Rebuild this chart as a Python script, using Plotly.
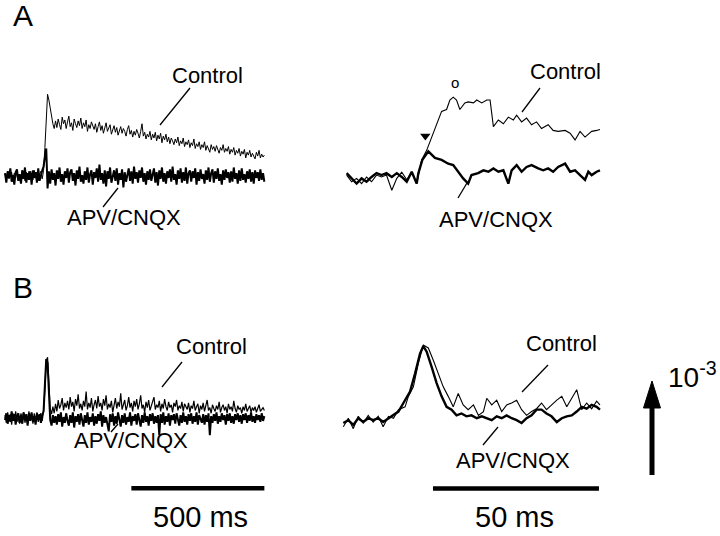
import plotly.graph_objects as go

# ---------------- DATA ----------------
# Panel A, left (slow sweep): sample interval 5 ms, values in units of 10^-3
A_left_dt = 5
A_left_control = [
    0.02, -0.04, 0.05, -0.03, 0.01, 0.04, -0.05, 0.03, -0.02, 0.05,
    -0.04, 0.02, -0.03, 0.06, 0.03, -0.05, 0.04, -0.02, 0.05, -0.03,
    0.03, -0.04, 0.06, -0.02, 0.04, -0.05, 0.02, 0.05, -0.03, 0.06,
    0.30, 0.65, 0.86, 0.80, 0.70, 0.62, 0.55, 0.50,
    0.58, 0.51, 0.60, 0.54, 0.49, 0.62, 0.55, 0.59, 0.50, 0.57,
    0.63, 0.52, 0.56, 0.48, 0.60, 0.55, 0.51, 0.58, 0.53, 0.61,
    0.50, 0.56, 0.52, 0.59, 0.47, 0.54, 0.50, 0.57, 0.53, 0.49,
    0.55, 0.46, 0.52, 0.57, 0.48, 0.53, 0.45, 0.51, 0.56, 0.47,
    0.50, 0.54, 0.44, 0.49, 0.53, 0.46, 0.51, 0.43, 0.48, 0.52,
    0.45, 0.50, 0.47, 0.42, 0.49, 0.53, 0.44, 0.48, 0.41, 0.47,
    0.43, 0.49, 0.45, 0.40, 0.47, 0.55, 0.42, 0.46, 0.39, 0.44,
    0.41, 0.47, 0.38, 0.44, 0.40, 0.46, 0.37, 0.43, 0.39, 0.45,
    0.35, 0.42, 0.38, 0.44, 0.36, 0.41, 0.34, 0.40, 0.37, 0.33,
    0.39, 0.35, 0.41, 0.32, 0.37, 0.34, 0.40, 0.31, 0.36, 0.33,
    0.38, 0.30, 0.35, 0.32, 0.39, 0.29, 0.34, 0.31, 0.36, 0.28,
    0.33, 0.30, 0.36, 0.27, 0.32, 0.29, 0.25, 0.33, 0.28, 0.31,
    0.26, 0.32, 0.28, 0.24, 0.30, 0.27, 0.33, 0.25, 0.29, 0.26,
    0.31, 0.23, 0.28, 0.25, 0.30, 0.22, 0.27, 0.24, 0.29, 0.21,
    0.26, 0.23, 0.28, 0.19, 0.25, 0.22, 0.27, 0.20, 0.24, 0.21,
    0.18, 0.25, 0.21, 0.27, 0.19, 0.23, 0.20, 0.22]
A_left_apv = [
    0.03, -0.07, 0.05, -0.02, 0.08, -0.06, 0.01, -0.09, 0.04, 0.07,
    -0.05, 0.02, -0.08, 0.06, -0.03, 0.09, -0.07, 0.03, -0.04, 0.05,
    -0.09, 0.06, -0.02, 0.04, -0.07, 0.08, -0.05, 0.02, 0.06, 0.10,
    0.20, 0.29, -0.13, 0.05, -0.08, 0.07, -0.04, 0.03, -0.10, 0.06,
    -0.03, 0.09, -0.06, 0.02, -0.09, 0.05, -0.02, 0.08, -0.07, 0.04,
    0.07, -0.05, 0.03, -0.10, 0.06, -0.03, 0.10, -0.06, 0.01, -0.08,
    0.05, -0.04, 0.09, -0.07, 0.02, 0.06, -0.09, 0.04, -0.02, 0.08,
    -0.06, 0.12, -0.04, 0.03, -0.08, 0.06, -0.11, 0.05, -0.03, 0.09,
    -0.07, 0.02, 0.06, -0.05, 0.08, -0.09, 0.03, -0.04, 0.07, -0.12,
    0.04, -0.06, 0.02, 0.08, -0.05, 0.05, -0.08, 0.10, -0.03, 0.04,
    -0.07, 0.06, -0.02, 0.09, -0.06, 0.03, -0.09, 0.05, -0.04, 0.07,
    -0.05, 0.02, 0.08, -0.07, 0.04, -0.10, 0.06, -0.03, 0.09, -0.06,
    0.03, -0.08, 0.05, -0.02, 0.07, -0.06, 0.10, -0.04, 0.02, -0.09,
    0.06, -0.03, 0.08, -0.07, 0.04, -0.05, 0.09, -0.08, 0.03, 0.06,
    -0.06, 0.05, -0.02, 0.08, -0.09, 0.04, -0.05, 0.07, -0.03, 0.02,
    -0.08, 0.06, -0.04, 0.09, -0.06, 0.03, 0.07, -0.07, 0.05, -0.03,
    0.08, -0.05, 0.02, -0.09, 0.06, -0.04, 0.07, -0.02, 0.04, -0.07,
    0.05, -0.06, 0.09, -0.03, 0.03, -0.08, 0.06, -0.05, 0.08, -0.04,
    0.02, -0.07, 0.05, -0.03, 0.07, -0.06, 0.04, -0.08, 0.06, -0.02,
    0.04, -0.05, 0.07, -0.04, 0.03, -0.06]

# Panel A, right (fast sweep): time in ms, values in units of 10^-3
A_right_control_t = [0.5, 2.0, 3.5, 5.0, 6.5, 8.0, 9.5, 11.0, 12.5, 14.1, 15.6, 17.1, 18.6, 20.1, 21.6, 23.1,
                     24.6, 26.1, 27.6, 29.1, 30.6, 31.6, 32.6, 33.6, 34.6, 36.1, 37.1, 38.7, 39.7, 41.2, 42.7,
                     43.7, 44.7, 46.2, 47.7, 49.2, 50.7, 51.7, 53.2, 54.7, 56.2, 57.7, 59.2, 61.2, 62.7, 64.2,
                     66.3, 67.8, 69.3, 70.8, 72.3, 74.3, 75.8, 76.8]
A_right_control = [0.01, -0.06, -0.025, -0.08, -0.01, -0.06, 0.01, -0.01, 0.01, -0.15, -0.025, 0.04, -0.04,
                   0.04, -0.08, 0.17, 0.27, 0.41, 0.55, 0.68, 0.70, 0.80, 0.83, 0.80, 0.70, 0.77, 0.78, 0.77,
                   0.80, 0.77, 0.80, 0.80, 0.52, 0.59, 0.55, 0.62, 0.59, 0.64, 0.57, 0.61, 0.54, 0.57, 0.50,
                   0.54, 0.48, 0.47, 0.48, 0.45, 0.38, 0.47, 0.41, 0.47, 0.48, 0.49]
A_right_apv_t = [0.5, 2.0, 3.5, 5.0, 6.5, 8.0, 9.5, 11.0, 12.5, 14.1, 15.6, 17.1, 18.6, 20.1, 21.6, 22.1, 23.3,
                 25.1, 27.1, 29.1, 31.1, 32.6, 34.1, 35.6, 37.1, 38.1, 40.1, 41.7, 43.2, 44.7, 46.2, 47.7, 49.2,
                 50.2, 51.7, 53.2, 54.7, 56.2, 58.2, 59.7, 61.2, 62.7, 64.2, 66.3, 67.8, 69.3, 70.8, 72.3, 73.3,
                 74.3, 75.8, 76.8]
A_right_apv = [0.03, -0.025, -0.08, -0.025, -0.06, -0.01, 0.03, 0.01, 0.03, -0.01, 0.03, -0.01, -0.06, 0.045,
               -0.08, 0.03, 0.17, 0.26, 0.19, 0.17, 0.13, 0.115, 0.045, -0.025, -0.08, 0.01, 0.03, 0.06, 0.045,
               0.08, 0.045, 0.06, -0.08, 0.06, 0.115, 0.045, 0.095, 0.115, 0.08, 0.06, 0.08, 0.045, 0.095, 0.13,
               0.045, 0.06, 0.01, -0.04, 0.045, 0.01, 0.045, 0.06]

# Panel B, left (slow sweep): sample interval 5 ms
B_left_dt = 5
B_left_control = [
    0.03, -0.05, 0.06, -0.02, 0.04, -0.07, 0.05, -0.03, 0.07, -0.04,
    0.02, -0.06, 0.05, -0.01, 0.06, -0.05, 0.03, -0.04, 0.07, -0.02,
    0.04, -0.06, 0.05, -0.03, 0.06, -0.04, 0.02, 0.05, -0.03, 0.08,
    0.30, 0.60, 0.64, 0.35, 0.10, 0.04, 0.12, 0.05,
    0.15, 0.07, 0.19, 0.10, 0.14, 0.21, 0.08, 0.16, 0.11, 0.18,
    0.09, 0.22, 0.12, 0.17, 0.07, 0.20, 0.13, 0.25, 0.10, 0.15,
    0.08, 0.18, 0.12, 0.28, 0.09, 0.16, 0.11, 0.21, 0.07, 0.14,
    0.19, 0.10, 0.23, 0.12, 0.16, 0.08, 0.20, 0.13, 0.24, 0.09,
    0.15, 0.11, 0.18, 0.06, 0.14, 0.21, 0.10, 0.17, 0.12, 0.26,
    0.09, 0.15, 0.19, 0.08, 0.13, 0.22, 0.11, 0.16, 0.07, 0.18,
    0.12, 0.20, 0.09, 0.15, 0.24, 0.10, 0.14, 0.06, 0.17, 0.11,
    0.19, 0.08, 0.13, 0.16, 0.22, 0.09, 0.14, 0.11, 0.18, 0.07,
    0.15, 0.10, 0.20, 0.12, 0.08, 0.17, 0.11, 0.14, 0.06, 0.16,
    0.12, 0.19, 0.08, 0.13, 0.10, 0.17, 0.07, 0.15, 0.11, 0.09,
    0.16, 0.06, 0.13, 0.10, 0.18, 0.08, 0.12, 0.15, 0.05, 0.13,
    0.09, 0.16, 0.07, 0.12, 0.19, 0.08, 0.11, 0.05, 0.14, 0.10,
    0.07, 0.13, 0.09, 0.17, 0.06, 0.11, 0.14, 0.08, 0.12, 0.05,
    0.15, 0.09, 0.12, 0.07, 0.18, 0.10, 0.06, 0.13, 0.09, 0.11,
    0.05, 0.12, 0.08, 0.15, 0.07, 0.10, 0.13, 0.06, 0.11, 0.08,
    0.12, 0.06, 0.10, 0.14, 0.07, 0.09, 0.11, 0.08]
B_left_apv = [
    -0.02, 0.05, -0.06, 0.03, -0.04, 0.07, -0.03, 0.04, -0.07, 0.02,
    0.05, -0.05, 0.03, -0.06, 0.06, -0.02, 0.04, -0.08, 0.05, -0.03,
    0.06, -0.04, 0.02, -0.07, 0.05, -0.02, 0.04, -0.05, 0.03, 0.07,
    0.35, 0.62, 0.58, 0.25, -0.02, -0.08, 0.03, -0.05,
    0.02, -0.07, 0.04, -0.04, 0.06, -0.09, 0.01, -0.05, 0.05, -0.03,
    -0.08, 0.03, -0.05, 0.06, -0.10, 0.02, -0.04, 0.04, -0.07, 0.05,
    -0.02, -0.09, 0.03, -0.05, 0.06, -0.07, 0.01, -0.04, 0.05, -0.08,
    0.02, -0.06, 0.04, -0.03, 0.07, -0.09, 0.03, -0.05, 0.01, -0.07,
    -0.14, 0.04, -0.04, 0.05, -0.08, 0.02, -0.06, 0.06, -0.03, -0.09,
    0.03, -0.05, 0.05, -0.07, 0.01, -0.04, 0.06, -0.08, 0.02, -0.03,
    0.04, -0.07, 0.05, -0.02, -0.09, 0.03, -0.05, 0.06, -0.04, 0.02,
    -0.08, 0.04, -0.03, 0.05, -0.06, 0.02, -0.05, 0.03, -0.18, 0.04,
    -0.05, 0.06, -0.07, 0.02, -0.04, 0.05, -0.08, 0.03, -0.02, 0.04,
    -0.06, 0.05, -0.03, -0.08, 0.03, -0.05, 0.06, -0.04, 0.02, -0.07,
    0.04, -0.03, 0.05, -0.06, 0.02, -0.04, 0.06, -0.07, 0.03, -0.02,
    -0.05, 0.04, -0.07, 0.03, -0.04, 0.05, -0.18, 0.02, -0.05, 0.04,
    -0.03, 0.06, -0.06, 0.02, -0.04, 0.05, -0.02, 0.03, -0.07, 0.04,
    -0.03, 0.05, -0.05, 0.02, -0.06, 0.04, -0.02, 0.05, -0.04, 0.03,
    -0.06, 0.04, -0.02, 0.05, -0.05, 0.03, -0.03, 0.06, -0.04, 0.02,
    -0.05, 0.04, -0.02, 0.03, -0.04, 0.05, -0.03, 0.02]

# Panel B, right (fast sweep)
B_right_control_t = [-0.5, 1.0, 2.5, 4.0, 5.5, 7.0, 8.5, 10.0, 11.5, 13.1, 14.6, 16.1, 18.1, 19.1, 20.6, 22.1,
                     23.6, 25.1, 26.6, 28.1, 29.6, 31.1, 32.6, 34.1, 35.6, 37.1, 38.7, 40.2, 41.7, 42.7, 44.2,
                     45.7, 47.2, 48.7, 50.2, 51.7, 53.2, 54.7, 56.2, 57.7, 59.2, 60.7, 62.2, 63.8, 65.3, 66.8,
                     68.3, 69.8, 71.3, 72.8, 74.3, 75.8, 76.8]
B_right_control = [-0.05, 0.04, -0.07, 0.06, -0.01, 0.07, 0.00, 0.06, -0.05, 0.06, 0.04, 0.13, 0.16, 0.27, 0.37,
                   0.62, 0.81, 0.78, 0.65, 0.51, 0.37, 0.27, 0.16, 0.30, 0.18, 0.13, 0.18, 0.07, 0.11, 0.25,
                   0.18, 0.23, 0.11, 0.18, 0.20, 0.23, 0.13, 0.07, 0.11, 0.14, 0.20, 0.13, 0.18, 0.23, 0.27,
                   0.16, 0.25, 0.34, 0.13, 0.20, 0.14, 0.22, 0.18]
B_right_apv_t = [-0.5, 1.0, 2.5, 4.0, 5.5, 7.0, 8.5, 10.0, 11.5, 13.1, 14.6, 16.1, 17.6, 19.6, 21.1, 22.6, 23.6,
                 24.6, 26.1, 27.6, 29.1, 30.6, 32.1, 33.6, 35.1, 36.6, 38.1, 39.7, 41.2, 42.7, 44.2, 45.7, 47.2,
                 48.7, 50.2, 51.7, 53.2, 54.7, 56.2, 57.7, 59.2, 60.7, 62.2, 63.8, 65.3, 66.8, 68.3, 69.8, 71.3,
                 72.8, 74.3, 75.8, 76.8]
B_right_apv = [-0.01, 0.02, -0.03, 0.04, 0.00, 0.04, 0.02, 0.04, 0.00, 0.04, 0.07, 0.11, 0.20, 0.32, 0.51, 0.72,
               0.80, 0.74, 0.58, 0.41, 0.27, 0.16, 0.13, 0.07, 0.09, 0.06, 0.07, 0.04, 0.06, 0.04, 0.02, 0.06,
               0.04, 0.07, 0.04, 0.02, -0.01, 0.04, 0.07, 0.13, 0.13, 0.09, 0.06, 0.00, 0.04, 0.06, 0.07, 0.11,
               0.16, 0.14, 0.18, 0.16, 0.13]

# Calibration bars
slow_bar_ms = [475, 975]
fast_bar_ms = [26.5, 76.5]
slow_bar_label = "500 ms"
fast_bar_label = "50 ms"
amp_label = "10<sup>-3</sup>"

# ---------------- FIGURE ----------------
W, H = 720, 536
def px(x):
    return x / W
def py(y):
    return 1 - y / H

FONT = "Liberation Sans, Arial, Helvetica, sans-serif"
fig = go.Figure()

def line(x, y, xa, ya, width):
    fig.add_trace(go.Scatter(x=x, y=y, xaxis=xa, yaxis=ya, mode="lines",
                             line=dict(color="black", width=width), showlegend=False,
                             hoverinfo="skip"))

tl_c = [i * A_left_dt for i in range(len(A_left_control))]
tl_a = [i * A_left_dt for i in range(len(A_left_apv))]
line(tl_c, A_left_control, "x", "y", 1.0)
line(tl_a, A_left_apv, "x", "y", 2.0)

line(A_right_control_t, A_right_control, "x2", "y2", 1.1)
line(A_right_apv_t, A_right_apv, "x2", "y2", 2.4)

tb_c = [i * B_left_dt for i in range(len(B_left_control))]
tb_a = [i * B_left_dt for i in range(len(B_left_apv))]
line(tb_c, B_left_control, "x3", "y3", 1.2)
line(tb_a, B_left_apv, "x3", "y3", 2.0)

line(B_right_control_t, B_right_control, "x4", "y4", 1.1)
line(B_right_apv_t, B_right_apv, "x4", "y4", 2.4)

# scale bars
line(slow_bar_ms, [-0.74, -0.74], "x3", "y3", 4.5)
line(fast_bar_ms, [-0.70, -0.70], "x4", "y4", 4.5)

# onset arrowhead in A right
fig.add_trace(go.Scatter(x=[24.2], y=[0.42], xaxis="x2", yaxis="y2", mode="markers",
                         marker=dict(symbol="triangle-down", size=9, color="black"),
                         showlegend=False, hoverinfo="skip"))

# axes
ax_common = dict(visible=False, fixedrange=True)
left_dom = [0, px(270)]
right_dom = [px(335), px(615)]
fig.update_layout(
    xaxis=dict(domain=left_dom, range=[-18.8, 996.2], anchor="y", **ax_common),
    yaxis=dict(domain=[py(230), py(60)], range=[-0.568, 1.221], anchor="x", **ax_common),
    xaxis2=dict(domain=right_dom, range=[-3.01, 81.33], anchor="y2", **ax_common),
    yaxis2=dict(domain=[py(230), py(60)], range=[-0.568, 1.221], anchor="x2", **ax_common),
    xaxis3=dict(domain=left_dom, range=[-18.8, 996.2], anchor="y3", **ax_common),
    yaxis3=dict(domain=[py(536), py(320)], range=[-1.242, 1.032], anchor="x3", **ax_common),
    xaxis4=dict(domain=right_dom, range=[-3.01, 81.33], anchor="y4", **ax_common),
    yaxis4=dict(domain=[py(536), py(320)], range=[-1.2, 1.074], anchor="x4", **ax_common),
)

def text(s, x, y, size, xanchor="center", yanchor="middle"):
    return dict(text=s, x=px(x), y=py(y), xref="paper", yref="paper", showarrow=False,
                xanchor=xanchor, yanchor=yanchor, font=dict(family=FONT, size=size, color="black"))

annotations = [
    text("A", 23, 15, 30),
    text("B", 23, 287, 30),
    text("Control", 208, 76, 22),
    text("APV/CNQX", 124, 217, 22),
    text("Control", 565, 72, 22),
    text("APV/CNQX", 496, 220, 22),
    text("o", 455, 82, 15),
    text("Control", 211, 346, 22),
    text("APV/CNQX", 131, 440, 22),
    text("Control", 561, 343, 22),
    text("APV/CNQX", 513, 460, 22),
    text(slow_bar_label, 200, 517, 29),
    text(fast_bar_label, 514, 517, 29),
    text(amp_label, 692, 375, 28),
]

def seg(x0, y0, x1, y1, w=1.3):
    return dict(type="line", xref="paper", yref="paper", x0=px(x0), y0=py(y0), x1=px(x1), y1=py(y1),
                line=dict(color="black", width=w))

# amplitude calibration arrow (shaft + head)
arrow_head = dict(type="path", xref="paper", yref="paper",
                  path="M %.5f %.5f L %.5f %.5f L %.5f %.5f Z" % (px(652), py(381), px(643.5), py(408),
                                                                  px(660.5), py(408)),
                  fillcolor="black", line=dict(color="black", width=1))

shapes = [
    seg(190, 88, 160, 125),
    seg(118, 188, 103, 207),
    seg(540, 88, 522, 112),
    seg(467, 183, 458, 198),
    seg(182, 362, 162, 387),
    seg(118, 424, 111, 432),
    seg(548, 365, 522, 392),
    seg(498, 427, 483, 445),
    seg(652, 404, 652, 475, 5),
    arrow_head,
]

fig.update_layout(width=W, height=H, margin=dict(l=0, r=0, t=0, b=0),
                  paper_bgcolor="white", plot_bgcolor="white",
                  annotations=annotations, shapes=shapes)

fig.write_html("out.html", config={"displayModeBar": False},
               post_script="document.body.style.margin='0';")
